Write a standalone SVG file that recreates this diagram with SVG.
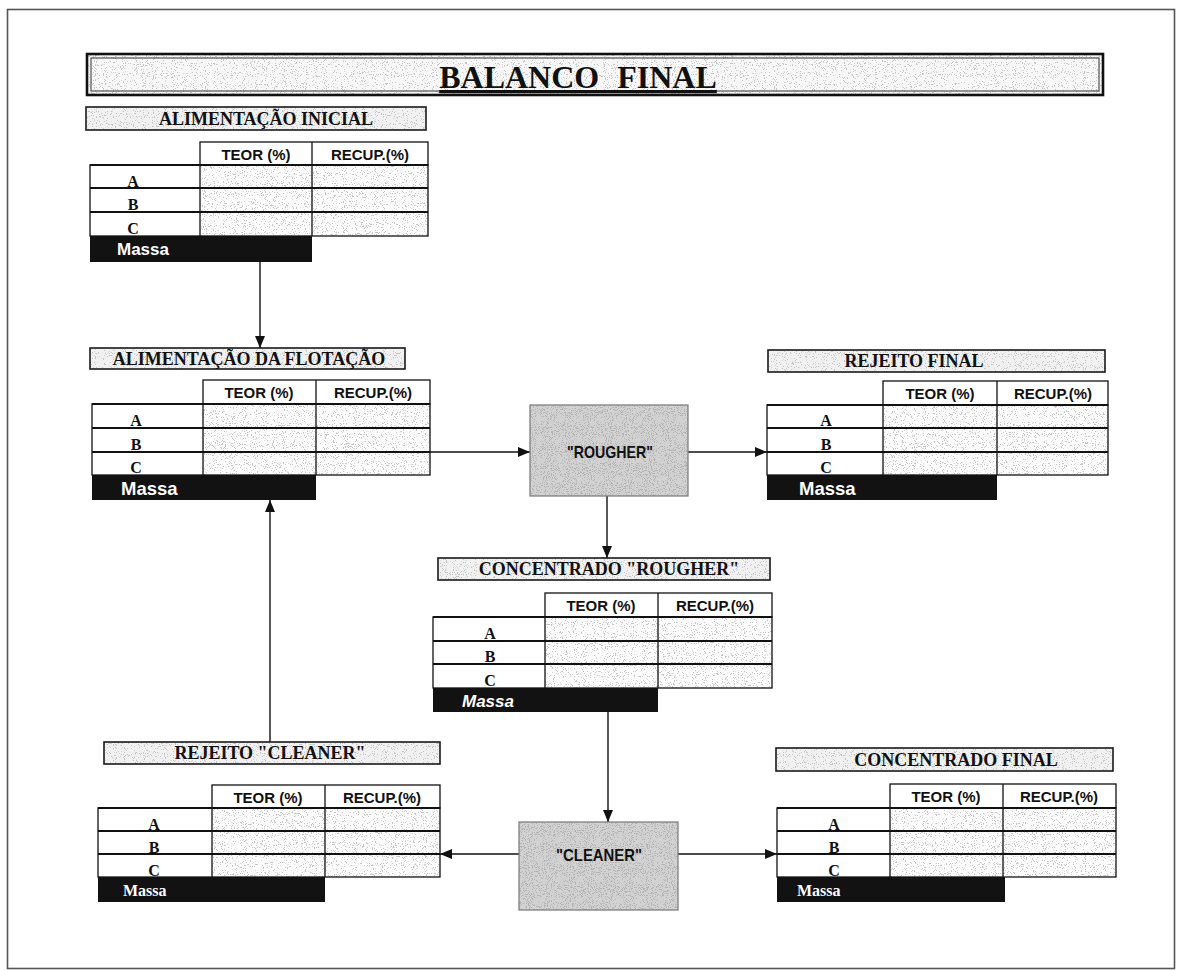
<svg xmlns="http://www.w3.org/2000/svg" width="1190" height="971" viewBox="0 0 1190 971">
  <defs>
    <style>
      .frame { fill: none; stroke: #555; stroke-width: 1.6; }
      .grid { fill: none; stroke: #111; stroke-width: 1.3; }
      .row { stroke: #111; stroke-width: 2; }
      .cellfill { fill: #fbfbfb; }
      .lblbox { fill: #f1f1f1; }
      .lbledge { fill: none; stroke: #1a1a1a; stroke-width: 1.6; }
      .procbox { fill: #d2d2d2; }
      .procedge { fill: none; stroke: #777; stroke-width: 1.2; }
      .massa-bar { fill: #121212; }
      .hdr { font-family: "Liberation Sans", Arial, sans-serif; font-weight: bold; font-size: 15px; fill: #111; text-anchor: middle; }
      .abc { font-family: "Liberation Serif", "Times New Roman", serif; font-weight: bold; font-size: 16px; fill: #111; text-anchor: middle; }
      .lbl { font-family: "Liberation Serif", "Times New Roman", serif; font-weight: bold; font-size: 18px; fill: #111; text-anchor: middle; }
      .proc { font-family: "Liberation Sans", Arial, sans-serif; font-weight: bold; font-size: 17px; fill: #111; text-anchor: middle; }
      .massa { font-family: "Liberation Sans", Arial, sans-serif; font-weight: bold; font-size: 17px; fill: #fff; }
      .massa-serif { font-family: "Liberation Serif", "Times New Roman", serif; font-weight: bold; font-size: 16px; fill: #fff; }
      .title { font-family: "Liberation Serif", "Times New Roman", serif; font-weight: bold; font-size: 32px; fill: #111; text-anchor: middle; text-decoration: underline; word-spacing: 10px; }
      .wire { fill: none; stroke: #111; stroke-width: 1.4; }
    </style>
    <!-- halftone grain used on shaded cells and boxes -->
    <filter id="grainLight" x="0" y="0" width="1" height="1">
      <feTurbulence type="fractalNoise" baseFrequency="0.9" numOctaves="2" seed="7" result="n"/>
      <feColorMatrix in="n" type="matrix" values="0 0 0 0 0.55  0 0 0 0 0.55  0 0 0 0 0.55  14 0 0 0 -8.4" result="dots"/>
      <feComposite in="dots" in2="SourceGraphic" operator="in" result="clip"/>
      <feMerge><feMergeNode in="SourceGraphic"/><feMergeNode in="clip"/></feMerge>
    </filter>
    <filter id="grainDense" x="0" y="0" width="1" height="1">
      <feTurbulence type="fractalNoise" baseFrequency="0.95" numOctaves="2" seed="11" result="n"/>
      <feColorMatrix in="n" type="matrix" values="0 0 0 0 0.45  0 0 0 0 0.45  0 0 0 0 0.45  12 0 0 0 -6.6" result="dots"/>
      <feComposite in="dots" in2="SourceGraphic" operator="in" result="clip"/>
      <feMerge><feMergeNode in="SourceGraphic"/><feMergeNode in="clip"/></feMerge>
    </filter>
    <marker id="arrow" viewBox="0 0 12 10" refX="12" refY="5" markerWidth="12" markerHeight="10" markerUnits="userSpaceOnUse" orient="auto">
      <path d="M0,0 L12,5 L0,10 Z" fill="#111"/>
    </marker>
  </defs>

  <rect width="1190" height="971" fill="#fff"/>

  <!-- page frame -->
  <rect class="frame" x="7.5" y="9.5" width="1167" height="959"/>

  <!-- heading -->
  <g id="titulo">
    <rect x="87" y="54" width="1016" height="41" fill="#f7f7f7" filter="url(#grainLight)"/>
    <rect x="87" y="54" width="1016" height="41" fill="none" stroke="#111" stroke-width="2.6"/>
    <rect x="91" y="58" width="1008" height="33" fill="none" stroke="#333" stroke-width="1"/>
    <text class="title" x="578" y="88">BALANCO FINAL</text>
  </g>

  <!-- connectors -->
  <g id="conexoes">
    <line class="wire" x1="260" y1="262" x2="260" y2="348" marker-end="url(#arrow)"/>
    <line class="wire" x1="430" y1="452" x2="530" y2="452" marker-end="url(#arrow)"/>
    <line class="wire" x1="688" y1="452" x2="767" y2="452" marker-end="url(#arrow)"/>
    <line class="wire" x1="607" y1="496" x2="607" y2="558" marker-end="url(#arrow)"/>
    <line class="wire" x1="608" y1="712" x2="608" y2="822" marker-end="url(#arrow)"/>
    <line class="wire" x1="519" y1="854" x2="440" y2="854" marker-end="url(#arrow)"/>
    <line class="wire" x1="678" y1="854" x2="777" y2="854" marker-end="url(#arrow)"/>
    <line class="wire" x1="270" y1="742" x2="270" y2="500" marker-end="url(#arrow)"/>
  </g>

  <!-- ALIMENTAÇÃO INICIAL -->
  <g id="alimentacao-inicial">
    <rect class="lblbox" x="86" y="107" width="340" height="23" filter="url(#grainLight)"/>
    <rect class="lbledge" x="86" y="107" width="340" height="23"/>
    <text class="lbl" x="266" y="125">ALIMENTAÇÃO INICIAL</text>
    <rect class="cellfill" x="200" y="165" width="228" height="71" filter="url(#grainLight)"/>
    <rect class="grid" x="200" y="142" width="228" height="23"/>
    <line class="grid" x1="312" y1="142" x2="312" y2="236"/>
    <line class="grid" x1="200" y1="165" x2="200" y2="236"/>
    <rect class="grid" x="90" y="165" width="338" height="71"/>
    <line class="row" x1="90" y1="188" x2="428" y2="188"/>
    <line class="row" x1="90" y1="212" x2="428" y2="212"/>
    <line class="row" x1="90" y1="165" x2="428" y2="165"/>
    <text class="hdr" x="256" y="160">TEOR (%)</text>
    <text class="hdr" x="370" y="160">RECUP.(%)</text>
    <text class="abc" x="133" y="187">A</text>
    <text class="abc" x="133" y="210">B</text>
    <text class="abc" x="133" y="234">C</text>
    <rect class="massa-bar" x="90" y="236" width="222" height="26"/>
    <text class="massa" x="117" y="255">Massa</text>
  </g>

  <!-- ALIMENTAÇÃO DA FLOTAÇÃO -->
  <g id="alimentacao-flotacao">
    <rect class="lblbox" x="90" y="348" width="315" height="21" filter="url(#grainLight)"/>
    <rect class="lbledge" x="90" y="348" width="315" height="21"/>
    <text class="lbl" x="249" y="365">ALIMENTAÇÃO DA FLOTAÇÃO</text>
    <rect class="cellfill" x="203" y="404" width="227" height="71" filter="url(#grainLight)"/>
    <rect class="grid" x="203" y="380" width="227" height="24"/>
    <line class="grid" x1="316" y1="380" x2="316" y2="475"/>
    <line class="grid" x1="203" y1="404" x2="203" y2="475"/>
    <rect class="grid" x="92" y="404" width="338" height="71"/>
    <line class="row" x1="92" y1="428" x2="430" y2="428"/>
    <line class="row" x1="92" y1="452" x2="430" y2="452"/>
    <line class="row" x1="92" y1="404" x2="430" y2="404"/>
    <text class="hdr" x="259" y="398">TEOR (%)</text>
    <text class="hdr" x="373" y="398">RECUP.(%)</text>
    <text class="abc" x="136" y="426">A</text>
    <text class="abc" x="136" y="450">B</text>
    <text class="abc" x="136" y="473">C</text>
    <rect class="massa-bar" x="92" y="475" width="224" height="25"/>
    <text class="massa" x="121" y="495" style="font-size:18.5px">Massa</text>
  </g>

  <!-- ROUGHER -->
  <g id="rougher">
    <rect class="procbox" x="530" y="405" width="158" height="91" filter="url(#grainDense)"/>
    <rect class="procedge" x="530" y="405" width="158" height="91"/>
    <text class="proc" x="610" y="458" textLength="86" lengthAdjust="spacingAndGlyphs">"ROUGHER"</text>
  </g>

  <!-- REJEITO FINAL -->
  <g id="rejeito-final">
    <rect class="lblbox" x="768" y="350" width="337" height="22" filter="url(#grainLight)"/>
    <rect class="lbledge" x="768" y="350" width="337" height="22"/>
    <text class="lbl" x="914" y="367">REJEITO FINAL</text>
    <rect class="cellfill" x="883" y="405" width="225" height="70" filter="url(#grainLight)"/>
    <rect class="grid" x="883" y="381" width="225" height="24"/>
    <line class="grid" x1="997" y1="381" x2="997" y2="475"/>
    <line class="grid" x1="883" y1="405" x2="883" y2="475"/>
    <rect class="grid" x="767" y="405" width="341" height="70"/>
    <line class="row" x1="767" y1="428" x2="1108" y2="428"/>
    <line class="row" x1="767" y1="452" x2="1108" y2="452"/>
    <line class="row" x1="767" y1="405" x2="1108" y2="405"/>
    <text class="hdr" x="940" y="399">TEOR (%)</text>
    <text class="hdr" x="1053" y="399">RECUP.(%)</text>
    <text class="abc" x="826" y="426">A</text>
    <text class="abc" x="826" y="450">B</text>
    <text class="abc" x="826" y="473">C</text>
    <rect class="massa-bar" x="767" y="475" width="230" height="25"/>
    <text class="massa" x="799" y="495" style="font-size:18.5px">Massa</text>
  </g>

  <!-- CONCENTRADO "ROUGHER" -->
  <g id="concentrado-rougher">
    <rect class="lblbox" x="438" y="558" width="332" height="22" filter="url(#grainLight)"/>
    <rect class="lbledge" x="438" y="558" width="332" height="22"/>
    <text class="lbl" x="609" y="575">CONCENTRADO "ROUGHER"</text>
    <rect class="cellfill" x="545" y="617" width="227" height="71" filter="url(#grainLight)"/>
    <rect class="grid" x="545" y="593" width="227" height="24"/>
    <line class="grid" x1="658" y1="593" x2="658" y2="688"/>
    <line class="grid" x1="545" y1="617" x2="545" y2="688"/>
    <rect class="grid" x="433" y="617" width="339" height="71"/>
    <line class="row" x1="433" y1="641" x2="772" y2="641"/>
    <line class="row" x1="433" y1="664" x2="772" y2="664"/>
    <line class="row" x1="433" y1="617" x2="772" y2="617"/>
    <text class="hdr" x="601" y="611">TEOR (%)</text>
    <text class="hdr" x="715" y="611">RECUP.(%)</text>
    <text class="abc" x="490" y="639">A</text>
    <text class="abc" x="490" y="662">B</text>
    <text class="abc" x="490" y="686">C</text>
    <rect class="massa-bar" x="433" y="688" width="225" height="24"/>
    <text class="massa" x="462" y="707" style="font-style:italic">Massa</text>
  </g>

  <!-- CLEANER -->
  <g id="cleaner">
    <rect class="procbox" x="519" y="822" width="159" height="88" filter="url(#grainDense)"/>
    <rect class="procedge" x="519" y="822" width="159" height="88"/>
    <text class="proc" x="599" y="861" textLength="86" lengthAdjust="spacingAndGlyphs">"CLEANER"</text>
  </g>

  <!-- REJEITO "CLEANER" -->
  <g id="rejeito-cleaner">
    <rect class="lblbox" x="104" y="742" width="336" height="22" filter="url(#grainLight)"/>
    <rect class="lbledge" x="104" y="742" width="336" height="22"/>
    <text class="lbl" x="270" y="759">REJEITO "CLEANER"</text>
    <rect class="cellfill" x="212" y="808" width="228" height="69" filter="url(#grainLight)"/>
    <rect class="grid" x="212" y="785" width="228" height="23"/>
    <line class="grid" x1="325" y1="785" x2="325" y2="877"/>
    <line class="grid" x1="212" y1="808" x2="212" y2="877"/>
    <rect class="grid" x="98" y="808" width="342" height="69"/>
    <line class="row" x1="98" y1="831" x2="440" y2="831"/>
    <line class="row" x1="98" y1="854" x2="440" y2="854"/>
    <line class="row" x1="98" y1="808" x2="440" y2="808"/>
    <text class="hdr" x="268" y="803">TEOR (%)</text>
    <text class="hdr" x="382" y="803">RECUP.(%)</text>
    <text class="abc" x="154" y="830">A</text>
    <text class="abc" x="154" y="853">B</text>
    <text class="abc" x="154" y="876">C</text>
    <rect class="massa-bar" x="98" y="877" width="227" height="25"/>
    <text class="massa-serif" x="123" y="896">Massa</text>
  </g>

  <!-- CONCENTRADO FINAL -->
  <g id="concentrado-final">
    <rect class="lblbox" x="776" y="748" width="337" height="23" filter="url(#grainLight)"/>
    <rect class="lbledge" x="776" y="748" width="337" height="23"/>
    <text class="lbl" x="956" y="766">CONCENTRADO FINAL</text>
    <rect class="cellfill" x="890" y="808" width="226" height="69" filter="url(#grainLight)"/>
    <rect class="grid" x="890" y="784" width="226" height="24"/>
    <line class="grid" x1="1003" y1="784" x2="1003" y2="877"/>
    <line class="grid" x1="890" y1="808" x2="890" y2="877"/>
    <rect class="grid" x="777" y="808" width="339" height="69"/>
    <line class="row" x1="777" y1="831" x2="1116" y2="831"/>
    <line class="row" x1="777" y1="854" x2="1116" y2="854"/>
    <line class="row" x1="777" y1="808" x2="1116" y2="808"/>
    <text class="hdr" x="946" y="802">TEOR (%)</text>
    <text class="hdr" x="1059" y="802">RECUP.(%)</text>
    <text class="abc" x="834" y="830">A</text>
    <text class="abc" x="834" y="853">B</text>
    <text class="abc" x="834" y="876">C</text>
    <rect class="massa-bar" x="777" y="877" width="228" height="25"/>
    <text class="massa-serif" x="797" y="896">Massa</text>
  </g>
</svg>
